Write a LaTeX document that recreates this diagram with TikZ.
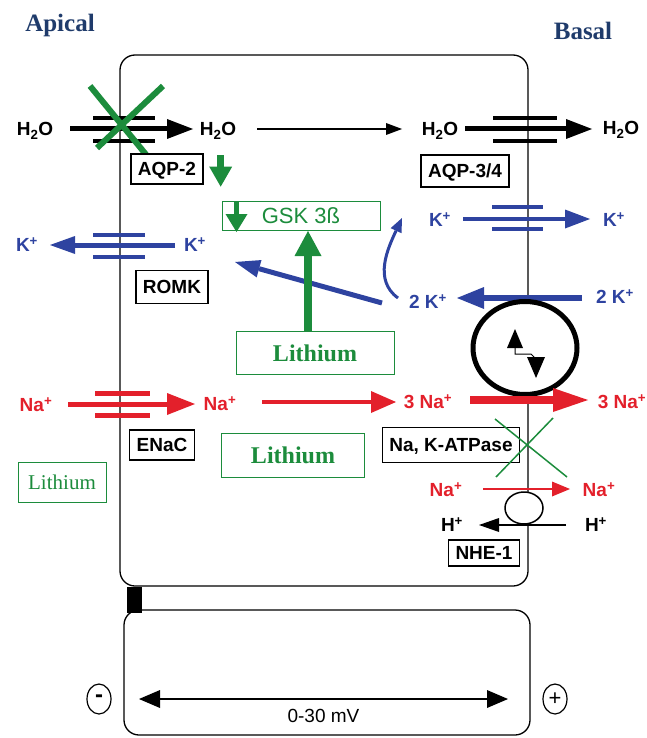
\documentclass[tikz,border=0pt]{standalone}
\usepackage{fontspec}
\setmainfont{Liberation Serif}
\setsansfont{Liberation Sans}
\usetikzlibrary{arrows.meta,calc,shapes.geometric}
\definecolor{potassium}{HTML}{2E43A0}
\definecolor{sodium}{HTML}{E3202B}
\definecolor{lithium}{HTML}{1C8C3C}
\definecolor{side}{HTML}{1F3B6B}
\tikzset{
  ion/.style={font=\sffamily\bfseries\fontsize{19}{20}\selectfont,inner sep=0pt,
              text height=13.5pt,text depth=0pt},
  kion/.style={ion,text=potassium},
  naion/.style={ion,text=sodium},
  tagbox/.style={draw,line width=1.3pt,fill=white,inner xsep=7pt,inner ysep=0pt,
                 font=\sffamily\bfseries\fontsize{19}{20}\selectfont,
                 text height=13.5pt,text depth=0pt,minimum height=30pt},
  libox/.style={draw=lithium,line width=1pt,fill=white,text=lithium,inner sep=0pt,
                font=\bfseries\fontsize{24}{26}\selectfont},
  sidelabel/.style={font=\bfseries\fontsize{25}{27}\selectfont,text=side,inner sep=0pt},
  wall/.style={line width=1.3pt,rounded corners=15pt},
  bar/.style={line width=4pt},
  tip/.style 2 args={-{Triangle[length=#1,width=#2,line width=0pt]}},
  pole/.style={draw,ellipse,line width=1.2pt,inner sep=0pt,minimum width=24pt,
               minimum height=30pt},
}

\begin{document}
\begin{tikzpicture}[x=1pt,y=-1pt]
\useasboundingbox (0,0) rectangle (647,738);

\node[sidelabel] (apical) at (60,25) {Apical};
\node[sidelabel] (basal) at (583,31) {Basal};

% cell and the space below it
\draw[wall] (120,55) rectangle (528,586);
\draw[wall] (124,610) rectangle (530,735);
\fill (127,587) rectangle (142,613);

% ions
\node[ion] (h2oL) at (35,129) {H\textsubscript{2}O};
\node[ion] (h2oI) at (218,129) {H\textsubscript{2}O};
\node[ion] (h2oB) at (440,129) {H\textsubscript{2}O};
\node[ion] (h2oR) at (621,128) {H\textsubscript{2}O};
\node[kion] (kL) at (27,245) {K\textsuperscript{+}};
\node[kion] (kA) at (195,245) {K\textsuperscript{+}};
\node[kion] (kB) at (440,220) {K\textsuperscript{+}};
\node[kion] (kR) at (614,220) {K\textsuperscript{+}};
\node[kion] (k2B) at (428,302) {2 K\textsuperscript{+}};
\node[kion] (k2R) at (615,297) {2 K\textsuperscript{+}};
\node[naion] (naL) at (36,405) {Na\textsuperscript{+}};
\node[naion] (naA) at (220,404) {Na\textsuperscript{+}};
\node[naion] (na3A) at (428,402) {3 Na\textsuperscript{+}};
\node[naion] (na3R) at (622,402) {3 Na\textsuperscript{+}};
\node[naion] (naB) at (446,490) {Na\textsuperscript{+}};
\node[naion] (naR) at (599,490) {Na\textsuperscript{+}};
\node[ion] (hB) at (452,525) {H\textsuperscript{+}};
\node[ion] (hR) at (596,525) {H\textsuperscript{+}};

% water
\foreach \y in {118,141} {
  \draw[bar] (93,\y) -- (155,\y);
  \draw[bar] (493,\y) -- (557,\y);
}
\draw[line width=5pt,tip={26pt}{20pt}] ($(h2oL)+(35,0)$) -- ($(h2oI)+(-25,0)$);
\draw[line width=1.5pt,tip={16pt}{12pt}] ($(h2oI)+(39,0)$) -- ($(h2oB)+(-38,0)$);
\draw[line width=5pt,tip={26pt}{20pt}] ($(h2oB)+(25,0)$) -- ($(h2oR)+(-29,1)$);
\draw[lithium,line width=6pt] (90,86) -- (148,157) (163,86) -- (97,148);

% potassium
\foreach \y in {235,257} \draw[bar,potassium] (93,\y) -- (145,\y);
\foreach \y in {207,229} \draw[bar,potassium] (492,\y) -- (543,\y);
\draw[potassium,line width=5pt,tip={25pt}{18pt}] ($(kA)+(-20,0)$) -- ($(kL)+(23,0)$);
\draw[potassium,line width=4pt,tip={25pt}{19pt}] ($(kB)+(23,-1)$) -- ($(kR)+(-24,-1)$);
\draw[potassium,line width=6pt,tip={27pt}{22pt}] ($(k2R)+(-33,1)$) -- ($(k2B)+(29,-4)$);
\draw[potassium,line width=5pt,tip={25pt}{18pt}] ($(k2B)+(-46,1)$) -- ($(kA)+(40,17)$);
\draw[potassium,line width=3pt,tip={14pt}{12pt}] ($(k2B)+(-30,-4)$)
  .. controls +(-25,-18) and +(-14,30) .. ($(kB)+(-38,-2)$);

% sodium
\foreach \y in {393,415} \draw[bar,sodium,line width=5pt] (95,\y) -- (150,\y);
\draw[sodium,line width=5pt,tip={28pt}{22pt}] ($(naL)+(32,-1)$) -- ($(naA)+(-25,0)$);
\draw[sodium,line width=4pt,tip={25pt}{22pt}] ($(naA)+(42,-2)$) -- ($(na3A)+(-32,0)$);
\draw[sodium,line width=1.5pt,tip={18pt}{15pt}] ($(naB)+(37,-1)$) -- ($(naR)+(-29,-1)$);
\draw[line width=1.5pt,tip={20pt}{14pt}] ($(hR)+(-30,0)$) -- ($(hB)+(27,0)$);

% pumps
\node[draw,ellipse,line width=5pt,fill=white,minimum width=104pt,minimum height=93pt]
  (pump) at (525,348) {};
\begin{scope}[shift={(pump.center)}]
  \fill (-10,-19) -- (-18,0) -- (-2,0) -- cycle;
  \draw[line width=1pt] (-10,0) -- (-10,6) -- (6,6) -- (10,10);
  \fill (2,9) -- (20,9) -- (11,30) -- cycle;
\end{scope}
\draw[sodium,line width=8pt,tip={35pt}{24pt}] ($(na3A)+(42,-2)$) -- ($(na3R)+(-34,-2)$);
\node[draw,ellipse,line width=1.5pt,fill=white,minimum width=38pt,minimum height=32pt]
  (nhx) at (524,508) {};

% transporter labels
\node[tagbox] (aqp2) at (167,169) {AQP-2};
\node[tagbox,minimum height=32pt] (aqp34) at (465,171) {AQP-3/4};
\node[tagbox,minimum height=33pt] (romk) at (172,287) {ROMK};
\node[tagbox] (enac) at (162,445) {ENaC};
\node[tagbox,minimum height=35pt] (atpase) at (451,445) {Na, K-ATPase};
\node[tagbox,minimum height=26pt] (nhe) at (484,553) {NHE-1};
\draw[lithium,line width=1.5pt] (495,419) -- (567,477) (553,418) -- (496,477);

% lithium
\node[libox,minimum width=158pt,minimum height=29pt,
      font=\sffamily\fontsize{22}{24}\selectfont] (gsk) at (301,216) {GSK 3ß};
\node[libox,minimum width=158pt,minimum height=43pt] (li1) at (315,353) {Lithium};
\node[libox,minimum width=143pt,minimum height=44pt] (li2) at (293,455) {Lithium};
\node[libox,minimum width=88pt,minimum height=40pt,font=\fontsize{21}{23}\selectfont]
  (li3) at (62,482) {Lithium};
\draw[lithium,line width=8pt,tip={25pt}{27pt}] ($(li1.north)+(-7,0)$) -- ($(gsk.south)+(7,0)$);
\draw[lithium,line width=7pt,tip={20pt}{23pt}] ($(aqp2.north east)+(17,2)$) -- ($(aqp2.south east)+(17,2)$);
\draw[lithium,line width=5pt,tip={18pt}{22pt}] ($(gsk.north west)+(15,1)$) -- ($(gsk.south west)+(15,1)$);

% voltage
\node[pole,font=\sffamily\bfseries\fontsize{24}{24}\selectfont] (minus) at (99,699) {-};
\node[pole,font=\sffamily\fontsize{22}{22}\selectfont] (plus) at (555,699) {+};
\draw[line width=1.5pt,{Triangle[length=21pt,width=18pt,line width=0pt]}-{Triangle[length=21pt,width=18pt,line width=0pt]}]
  ($(minus)+(40,0)$) -- node[below=9pt,inner sep=0pt,font=\sffamily\fontsize{19}{20}\selectfont] (mv) {0-30 mV}
  ($(plus)+(-47,0)$);

\end{tikzpicture}
\end{document}
